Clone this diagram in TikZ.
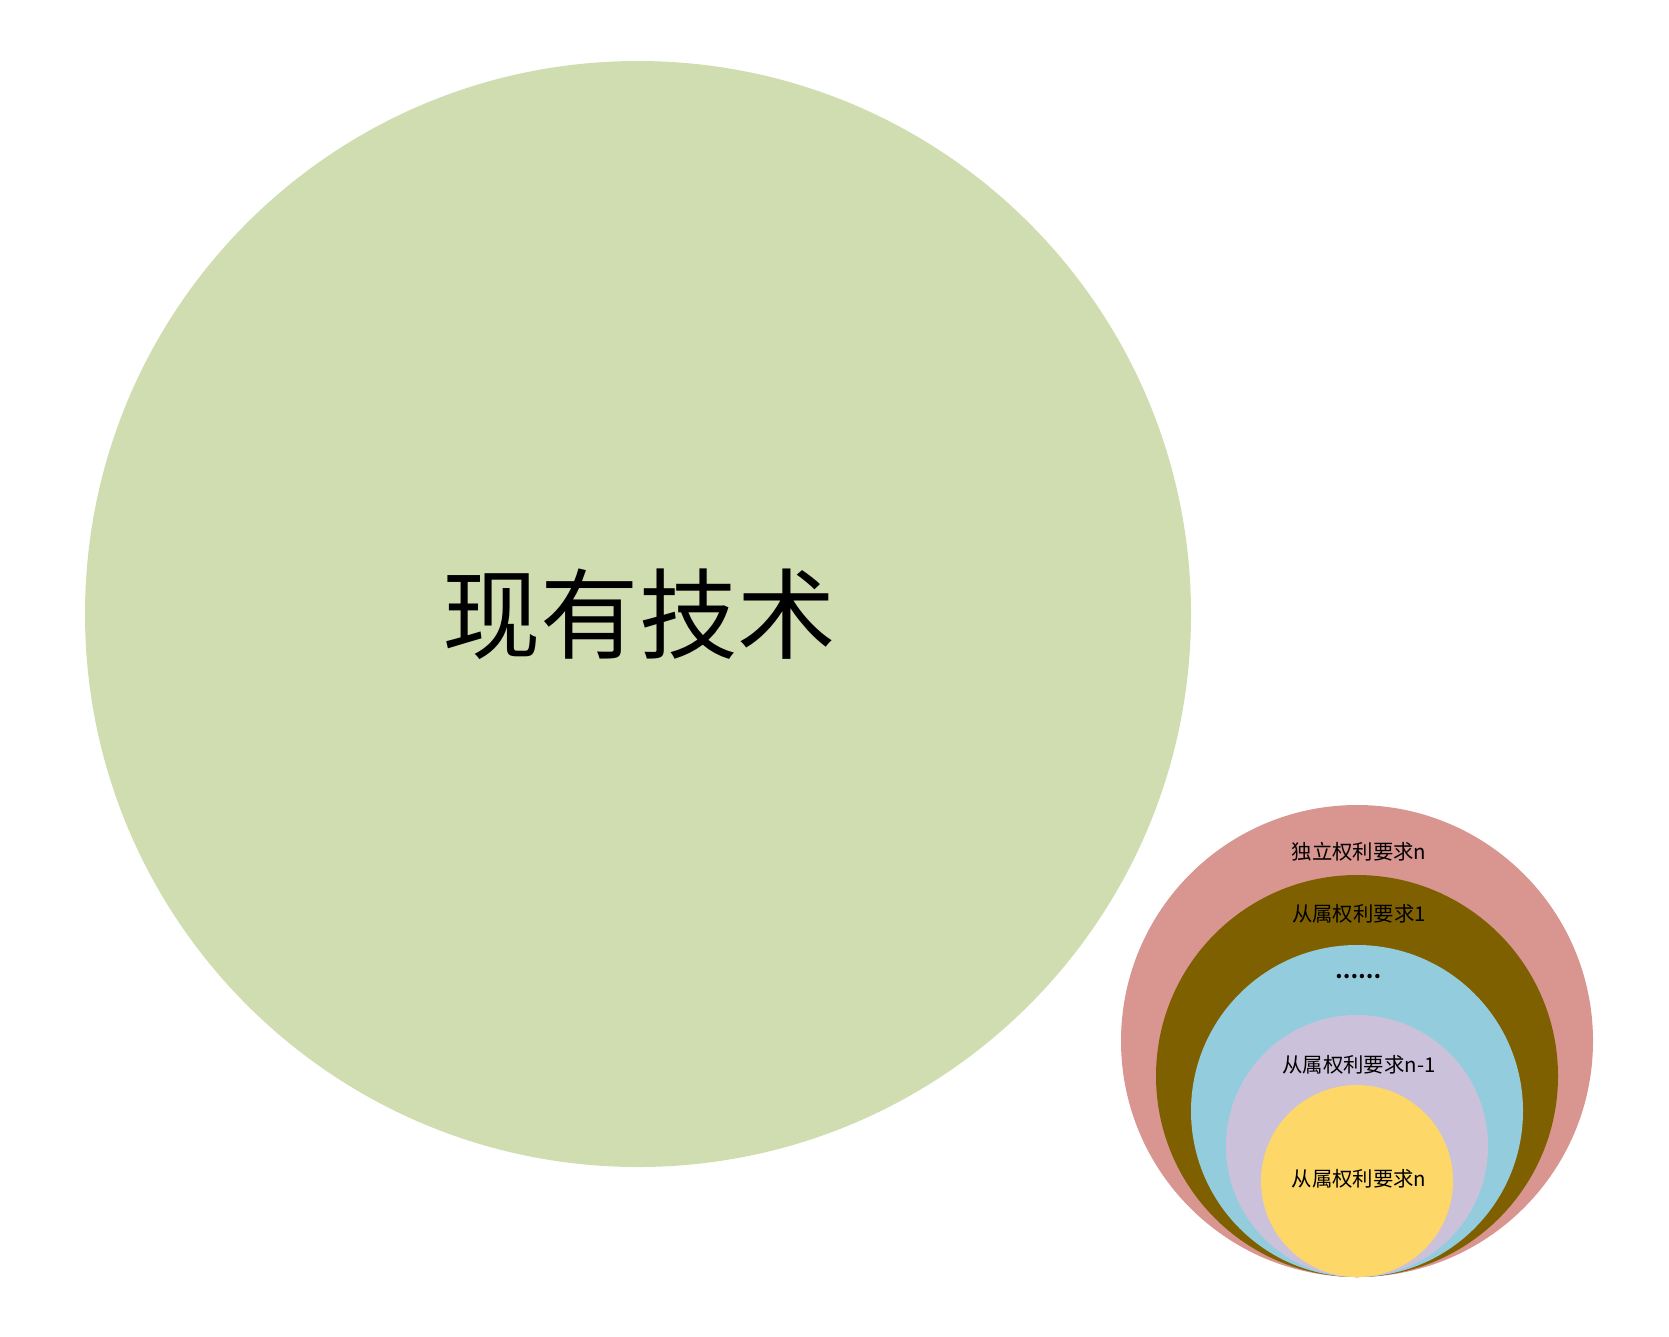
\documentclass[tikz,border=0pt]{standalone}
\usepackage{fontspec}
\setmainfont{Noto Sans CJK SC}
\definecolor{priorart}{HTML}{CFDDB0}
\definecolor{indep}{HTML}{D9958F}
\definecolor{depone}{HTML}{7F6000}
\definecolor{depdots}{HTML}{93CDDD}
\definecolor{depnm}{HTML}{CCC1DA}
\definecolor{depn}{HTML}{FDD868}
\tikzset{claim/.style={font=\fontsize{11.6}{13}\selectfont, inner sep=0pt}}
\begin{document}
\begin{tikzpicture}[x=0.02cm,y=-0.02cm]
        \useasboundingbox (0,0) rectangle (1669,1336);
        %prior art
        \fill[priorart] (638,614) circle (553);
        \node[font=\fontsize{56}{60}\selectfont] (prior) at (639,614) {现有技术};
        %claims, all circles touch at the bottom
        \foreach \r/\c in {236/indep,201/depone,166/depdots,131/depnm,96/depn}
            \fill[\c] (1357,{1277-\r}) circle (\r);
        % labels
        \node[claim] (indepn) at (1359,852) {独立权利要求n};
        \node[claim] (dep1) at (1359,914) {从属权利要求1};
        \node[claim] (dots) at (1358,977) {\textbf{……}};
        \node[claim] (depn1) at (1359,1065) {从属权利要求n-1};
        \node[claim] (depnn) at (1359,1179) {从属权利要求n};
\end{tikzpicture}
\end{document}
